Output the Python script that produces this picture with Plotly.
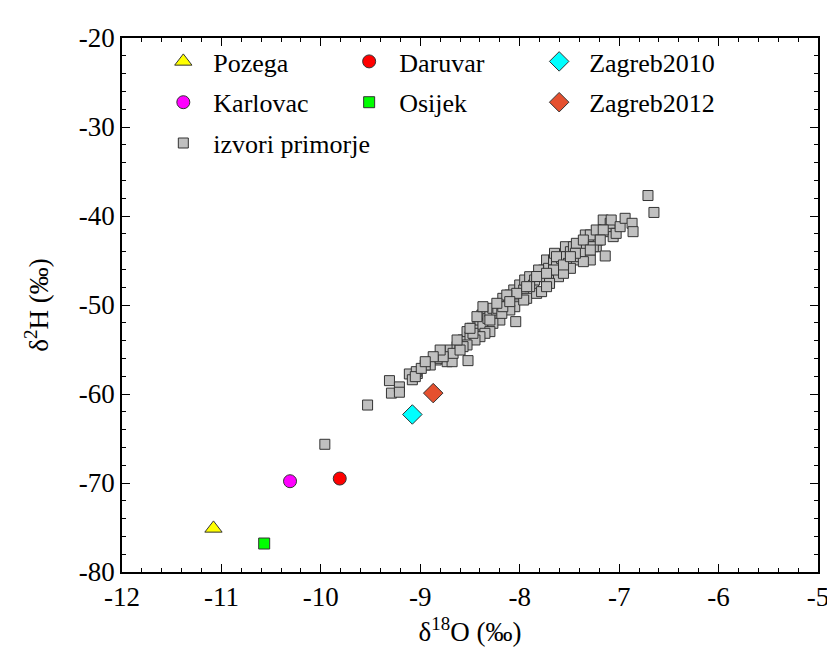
import plotly.graph_objects as go

# Single-site values (d18O, d2H)
pozega_x, pozega_y = [-11.08], [-75.1]
karlovac_x, karlovac_y = [-10.31], [-69.8]
daruvar_x, daruvar_y = [-9.81], [-69.5]
osijek_x, osijek_y = [-10.57], [-76.8]
zagreb2010_x, zagreb2010_y = [-9.08], [-62.3]
zagreb2012_x, zagreb2012_y = [-8.87], [-59.9]

# izvori primorje
izvori_x = [
    -9.96, -9.53, -9.31, -9.29, -9.21, -9.21, -9.11, -9.08, -9.03, -6.71, -6.65,
    -8.84, -8.90, -8.95, -9.04, -9.05, -8.99, -8.80, -8.75, -8.70, -8.73, -8.68,
    -8.63, -8.60, -8.57, -8.52, -8.53, -8.50, -8.48, -8.43, -8.42, -8.40, -8.38,
    -8.37, -8.33, -8.32, -8.30, -8.27, -8.23, -8.22, -8.17, -8.15, -8.11, -8.10,
    -8.06, -8.05, -8.04, -8.01, -8.00, -7.96, -7.95, -7.93, -7.90, -7.86, -7.83,
    -7.80, -7.78, -7.76, -7.73, -7.71, -7.70, -7.66, -7.65, -7.63, -7.61, -7.58,
    -7.54, -7.53, -7.51, -7.49, -7.46, -7.43, -7.39, -7.36, -7.34, -7.33, -7.29,
    -7.26, -7.23, -7.21, -7.16, -7.14, -7.13, -7.09, -7.08, -7.06, -7.03, -6.99,
    -6.94, -6.87, -6.86, -7.49, -7.56, -7.70, -7.73, -7.85, -7.96, -8.10, -8.20,
    -8.27, -8.30, -8.35, -8.40, -8.45, -8.53, -8.57, -8.67, -8.77, -8.43, -8.37,
    -8.60, -8.47, -8.18, -7.90, -7.81, -7.63, -7.43, -7.29, -7.36, -7.23, -7.16,
    -7.36, -7.56, -7.83, -8.03, -8.13, -8.17, -8.23, -7.93, -7.66, -7.44, -7.26,
    -7.19, -7.29, -7.49, -7.73, -8.10, -8.30, -8.50, -8.63, -8.80, -8.87, -8.95,
]
izvori_y = [
    -65.65, -61.24, -58.5, -59.9, -59.2, -59.8, -57.75, -58.4, -57.7, -37.7, -39.6,
    -56.18, -56.74, -56.74, -57.49, -58.05, -57.12, -55.99, -55.43, -55.06, -56.37, -56.37,
    -54.68, -54.49, -53.93, -56.25, -52.99, -53.56, -52.62, -52.81, -52.43, -51.69, -51.12,
    -52.25, -50.94, -51.50, -50.75, -50.37, -50.94, -50.37, -49.25, -50.19, -49.81, -48.88,
    -48.31, -50.19, -51.87, -48.88, -47.75, -48.31, -47.19, -49.25, -46.82, -47.75, -48.69,
    -46.82, -48.50, -46.07, -44.94, -45.88, -47.19, -44.94, -44.19, -45.69, -46.82, -44.76,
    -43.45, -44.57, -45.32, -44.01, -43.45, -44.94, -44.57, -44.01, -42.13, -43.07, -44.94,
    -42.32, -43.45, -42.70, -40.45, -44.49, -41.76, -40.82, -40.45, -42.32, -41.95, -41.20,
    -40.26, -40.82, -41.76, -45.88, -46.44, -47.57, -47.94, -47.19, -49.44, -50.56, -51.69,
    -52.06, -52.99, -53.18, -53.56, -53.93, -54.49, -54.68, -55.43, -55.81, -51.31, -50.19,
    -55.06, -53.18, -50.94, -47.94, -46.07, -44.57, -43.07, -42.13, -42.70, -41.57, -41.57,
    -45.13, -45.50, -46.80, -48.69, -48.88, -50.19, -49.81, -47.94, -46.07, -44.19, -43.45,
    -42.70, -43.82, -44.57, -46.44, -49.62, -51.69, -52.62, -53.93, -55.06, -55.81, -56.37,
]

x_ticks = [-12, -11, -10, -9, -8, -7, -6, -5]
y_ticks = [-80, -70, -60, -50, -40, -30, -20]

FONT = "Liberation Serif"
OUT = dict(color="#333333", width=1)

fig = go.Figure()

fig.add_trace(go.Scatter(x=izvori_x, y=izvori_y, mode="markers", name="izvori primorje",
                         marker=dict(symbol="square", size=10, color="#c0c0c0", line=OUT),
                         legend="legend", legendgroup="g3", legendrank=3))
fig.add_trace(go.Scatter(x=pozega_x, y=pozega_y, mode="markers", name="Pozega",
                         marker=dict(symbol="triangle-up", size=15, color="#ffff00", line=OUT),
                         legend="legend", legendgroup="g1", legendrank=1))
fig.add_trace(go.Scatter(x=karlovac_x, y=karlovac_y, mode="markers", name="Karlovac",
                         marker=dict(symbol="circle", size=13, color="#ff00ff", line=OUT),
                         legend="legend", legendgroup="g2", legendrank=2))
fig.add_trace(go.Scatter(x=daruvar_x, y=daruvar_y, mode="markers", name="Daruvar",
                         marker=dict(symbol="circle", size=13, color="#ff0000", line=OUT),
                         legend="legend2", legendgroup="h1"))
fig.add_trace(go.Scatter(x=osijek_x, y=osijek_y, mode="markers", name="Osijek",
                         marker=dict(symbol="square", size=11, color="#00ff00", line=OUT),
                         legend="legend2", legendgroup="h2"))
fig.add_trace(go.Scatter(x=zagreb2010_x, y=zagreb2010_y, mode="markers", name="Zagreb2010",
                         marker=dict(symbol="diamond", size=15, color="#00ffff", line=OUT),
                         legend="legend3", legendgroup="k1"))
fig.add_trace(go.Scatter(x=zagreb2012_x, y=zagreb2012_y, mode="markers", name="Zagreb2012",
                         marker=dict(symbol="diamond", size=15, color="#e5502f", line=OUT),
                         legend="legend3", legendgroup="k2"))

leg_common = dict(font=dict(family=FONT, size=26, color="black"), bgcolor="rgba(0,0,0,0)",
                  tracegroupgap=4, xanchor="left", yanchor="top", itemwidth=50)

fig.update_layout(
    width=827, height=669,
    margin=dict(l=122, r=9, t=38, b=97, autoexpand=False),
    paper_bgcolor="white", plot_bgcolor="white",
    font=dict(family=FONT, size=26, color="black"),
    legend=dict(x=0.045, y=1.0, **leg_common),
    legend2=dict(x=0.312, y=1.0, **leg_common),
    legend3=dict(x=0.585, y=1.0, **leg_common),
    xaxis=dict(range=[-12, -5], tickvals=x_ticks, ticktext=[str(v) for v in x_ticks],
               ticks="inside", ticklen=8, tickwidth=1.3, tickcolor="black",
               minor=dict(ticks="inside", dtick=0.2, ticklen=4, tickcolor="black", tickwidth=1),
               showline=True, linecolor="black", linewidth=1.5, mirror="allticks",
               showgrid=False, zeroline=False, automargin=False, ticklabeloverflow="allow",
               title=dict(text="δ<sup>18</sup>O (‰)", font=dict(family=FONT, size=27), standoff=11),
               tickfont=dict(family=FONT, size=27, color="black")),
    yaxis=dict(range=[-80, -20], tickvals=y_ticks, ticktext=[str(v) for v in y_ticks],
               ticks="inside", ticklen=8, tickwidth=1.3, tickcolor="black",
               minor=dict(ticks="inside", dtick=2, ticklen=4, tickcolor="black", tickwidth=1),
               showline=True, linecolor="black", linewidth=1.5, mirror="allticks",
               showgrid=False, zeroline=False, automargin=False, ticklabeloverflow="allow",
               title=dict(text="δ<sup>2</sup>H (‰)", font=dict(family=FONT, size=27), standoff=22),
               tickfont=dict(family=FONT, size=27, color="black")),
)

fig.write_html("out.html", config={"displayModeBar": False},
               post_script="document.body.style.margin='0';document.body.style.padding='0';")
